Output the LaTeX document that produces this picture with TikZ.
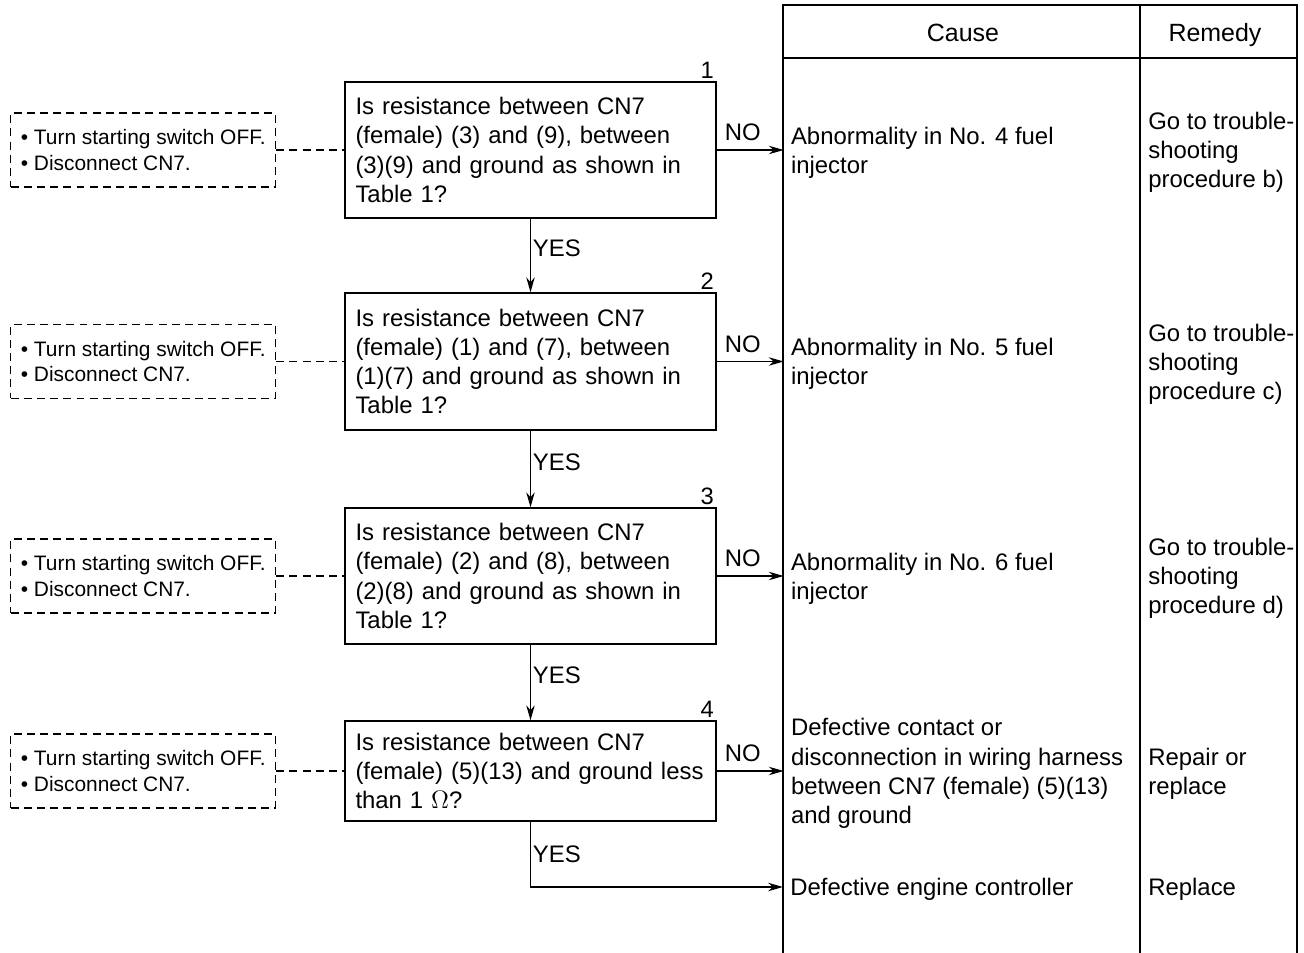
\documentclass[tikz,border=0pt]{standalone}
\usepackage{fontspec}
\setmainfont{Liberation Sans}
\usetikzlibrary{arrows.meta,positioning}
\tikzset{
  >={Stealth[length=8.5pt,width=4.8pt]},
  rule/.style={line width=.8pt},
  check/.style={draw,line width=.8pt,minimum width=7.42cm,text width=7.0cm,inner xsep=.21cm,
    align=left,font=\fontsize{13.6}{16.6}\selectfont},
  prep/.style={draw,dash pattern=on 4.5pt off 3pt,line width=.7pt,minimum width=5.3cm,minimum height=1.48cm,
    inner xsep=.1cm,align=left,font=\fontsize{11.9}{14.7}\selectfont},
  num/.style={anchor=south east,inner sep=1.5pt,font=\fontsize{13.5}{14}\selectfont},
  flow/.style={->,line width=.8pt},
  link/.style={line width=.7pt,dash pattern=on 4.5pt off 3pt},
  tag/.style={font=\fontsize{13.6}{16.6}\selectfont},
  cause/.style={anchor=west,inner xsep=.14cm,yshift=-.05cm,align=left,font=\fontsize{13.6}{16.6}\selectfont},
  remedy/.style={anchor=west,inner xsep=.16cm,align=left,font=\fontsize{13.6}{16.6}\selectfont},
  head/.style={anchor=base,font=\fontsize{14.2}{17}\selectfont},
}
\begin{document}
\begin{tikzpicture}[x=1cm,y=1cm]
  \useasboundingbox (0,0) rectangle (26.08,-19.06);

  % cause / remedy table
  \draw[rule] (15.66,-19.06) |- (25.94,-0.10) -- (25.94,-19.06);
  \draw[rule] (15.66,-1.16) -- (25.94,-1.16);
  \draw[rule] (22.80,-0.10) -- (22.80,-19.06);
  \coordinate (rcol) at (22.80,0);
  \node[head] (hcause) at (19.26,-0.84) {Cause};
  \node[head] (hremedy) at (24.30,-0.84) {Remedy};

  % checks
  \node[check,minimum height=2.72cm,label={[num]north east:1}] (b1) at (10.61,-3.00)
    {Is resistance between CN7\\(female) (3) and (9), between\\(3)(9) and ground as shown in\\Table 1?};
  \node[check,minimum height=2.74cm,label={[num]north east:2}] (b2) at (10.61,-7.23)
    {Is resistance between CN7\\(female) (1) and (7), between\\(1)(7) and ground as shown in\\Table 1?};
  \node[check,minimum height=2.72cm,label={[num]north east:3}] (b3) at (10.61,-11.52)
    {Is resistance between CN7\\(female) (2) and (8), between\\(2)(8) and ground as shown in\\Table 1?};
  \node[check,minimum height=2.00cm,label={[num]north east:4}] (b4) at (10.61,-15.42)
    {Is resistance between CN7\\(female) (5)(13) and ground less\\than 1 $\Omega$?};

  % preparations
  \foreach \i in {1,...,4} {
    \node[prep,left=1.36cm of b\i] (d\i) {\textbullet\ Turn starting switch OFF.\\\textbullet\ Disconnect CN7.};
    \draw[link] (d\i) -- (b\i);
  }

  % causes and remedies
  \node[cause,right=1.34cm of b1] (c1) {Abnormality in No. 4 fuel\\injector};
  \node[cause,right=1.34cm of b2] (c2) {Abnormality in No. 5 fuel\\injector};
  \node[cause,right=1.34cm of b3] (c3) {Abnormality in No. 6 fuel\\injector};
  \node[cause,right=1.34cm of b4] (c4)
    {Defective contact or\\disconnection in wiring harness\\between CN7 (female) (5)(13)\\and ground};
  \node[cause] (c5) at (15.66,-17.74) {Defective engine controller};
  \node[remedy] (r1) at (c1.west -| rcol) {Go to trouble-\\shooting\\procedure b)};
  \node[remedy] (r2) at (c2.west -| rcol) {Go to trouble-\\shooting\\procedure c)};
  \node[remedy] (r3) at (c3.west -| rcol) {Go to trouble-\\shooting\\procedure d)};
  \node[remedy] (r4) at (c4.west -| rcol) {Repair or\\replace};
  \node[remedy] (r5) at (c5.west -| rcol) {Replace};

  % NO / YES branches
  \foreach \i in {1,...,4}
    \draw[flow] (b\i.east) -- node[tag,above,xshift=-.15cm,yshift=.1cm,inner sep=2pt] {NO} (b\i.east -| c\i.west);
  \draw[flow] (b1) -- node[tag,right,inner xsep=1pt,yshift=.14cm] {YES} (b2);
  \draw[flow] (b2) -- node[tag,right,inner xsep=1pt,yshift=.14cm] {YES} (b3);
  \draw[flow] (b3) -- node[tag,right,inner xsep=1pt,yshift=.14cm] {YES} (b4);
  \draw[flow] (b4) |- node[tag,right,pos=.25,inner xsep=1pt] {YES} (c5.west |- 0,-17.74);
\end{tikzpicture}
\end{document}
